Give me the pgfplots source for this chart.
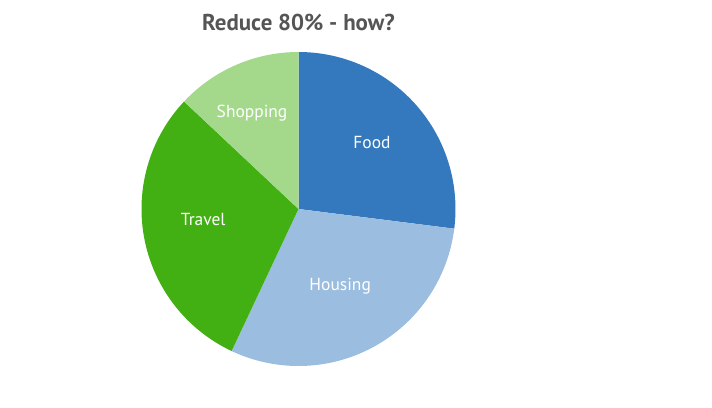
\documentclass[border=0pt]{standalone}
\usepackage{fontspec}
\setmainfont{PT Sans}
\usepackage{pgfplots}
\usepgfplotslibrary{polar}
\pgfplotsset{compat=1.18}

\definecolor{cFood}{HTML}{3478BE}
\definecolor{cHousing}{HTML}{9BBDE0}
\definecolor{cTravel}{HTML}{42B013}
\definecolor{cShopping}{HTML}{A4D98B}
\definecolor{cTitle}{HTML}{555555}

% slice shares in percent, clockwise from the top
% Food 27, Housing 30, Travel 30, Shopping 13
% angles: start at 90 deg, 3.6 deg per percent
\def\aA{90}      % Food start
\def\aB{-7.2}    % Food end / Housing start
\def\aC{-115.2}  % Housing end / Travel start
\def\aD{-223.2}  % Travel end / Shopping start
\def\aE{-270}    % Shopping end

\begin{document}
\begin{tikzpicture}
\begin{polaraxis}[
  name=pie,
  hide axis,
  scale only axis,
  width=314bp, height=314bp,
  ymin=0, ymax=1,
  clip=false,
]
\addplot[fill=cFood, draw=none, domain=\aB:\aA, samples=80] {1} -- (axis cs:0,0) -- cycle;
\addplot[fill=cHousing, draw=none, domain=\aC:\aB, samples=80] {1} -- (axis cs:0,0) -- cycle;
\addplot[fill=cTravel, draw=none, domain=\aD:\aC, samples=80] {1} -- (axis cs:0,0) -- cycle;
\addplot[fill=cShopping, draw=none, domain=\aE:\aD, samples=80] {1} -- (axis cs:0,0) -- cycle;

\node[white, font=\fontsize{17.5}{20}\selectfont] at (axis cs:42,0.63) {Food};
\node[white, font=\fontsize{17.5}{20}\selectfont] at (axis cs:-61.7,0.56) {Housing};
\node[white, font=\fontsize{17.5}{20}\selectfont] at (axis cs:186,0.61) {Travel};
\node[white, font=\fontsize{17.5}{20}\selectfont] at (axis cs:115.8,0.68) {Shopping};
\end{polaraxis}
\node[cTitle, font=\bfseries\fontsize{23}{26}\selectfont] at ([yshift=187bp]pie.center) {Reduce 80\% - how?};
\useasboundingbox ([xshift=-298.5bp, yshift=-199bp]pie.center) rectangle ([xshift=413.5bp, yshift=209bp]pie.center);
\end{tikzpicture}
\end{document}
